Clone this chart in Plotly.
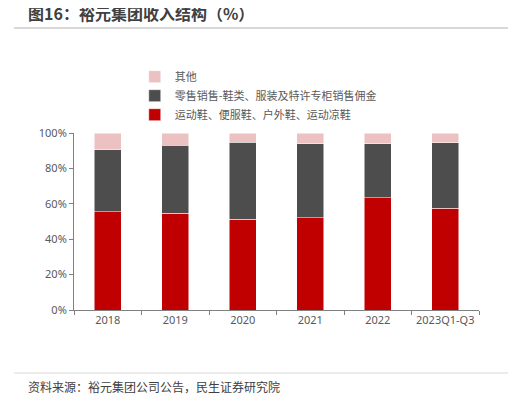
import plotly.graph_objects as go

years = ["2018", "2019", "2020", "2021", "2022", "2023Q1-Q3"]
shoes = [55.4, 54.8, 51.4, 52.0, 63.3, 57.6]
retail = [35.0, 38.4, 43.5, 41.8, 30.5, 36.8]
other = [9.6, 6.8, 5.1, 6.2, 6.2, 5.6]

fig = go.Figure()
fig.add_trace(go.Bar(x=years, y=shoes, name="运动鞋、便服鞋、户外鞋、运动凉鞋", marker_color="#c00000"))
fig.add_trace(go.Bar(x=years, y=retail, name="零售销售-鞋类、服装及特许专柜销售佣金", marker_color="#4d4d4d"))
fig.add_trace(go.Bar(x=years, y=other, name="其他", marker_color="#ebc1c1"))

fig.update_layout(
    width=516, height=401,
    barmode="stack", bargap=0.6,
    template="simple_white",
    font=dict(family="Noto Sans CJK SC", size=11, color="#595959"),
    margin=dict(l=66, r=45, t=125, b=99),
    legend=dict(x=0.15, y=1.40, xanchor="left", yanchor="top", traceorder="reversed",
                font=dict(size=11, color="#595959"), itemwidth=30, tracegroupgap=0),
    showlegend=True,
    plot_bgcolor="white",
)
fig.update_yaxes(range=[0, 100], dtick=20, ticksuffix="%", ticks="outside", ticklen=4,
                 linecolor="#808080", tickcolor="#808080", showgrid=False,
                 tickfont=dict(family="Noto Sans", size=11))
fig.update_xaxes(ticks="outside", ticklen=4, linecolor="#808080", tickcolor="#808080",
                 tickson="boundaries", tickfont=dict(family="Noto Sans", size=11))

fig.add_annotation(text="<b>图16：裕元集团收入结构（%）</b>", xref="paper", yref="paper",
                   x=-0.119, y=1.678, xanchor="left", yanchor="middle", showarrow=False,
                   font=dict(size=16, color="#404040"))
fig.add_shape(type="line", xref="paper", yref="paper", x0=-0.148, x1=1.096, y0=1.593, y1=1.593,
              line=dict(color="#595959", width=1.5))
fig.add_shape(type="line", xref="paper", yref="paper", x0=-0.148, x1=1.096, y0=-0.356, y1=-0.356,
              line=dict(color="#808080", width=1))
fig.add_annotation(text="资料来源：裕元集团公司公告，民生证券研究院", xref="paper", yref="paper",
                   x=-0.119, y=-0.435, xanchor="left", yanchor="middle", showarrow=False,
                   font=dict(size=12, color="#404040"))

fig.write_html("out.html")
